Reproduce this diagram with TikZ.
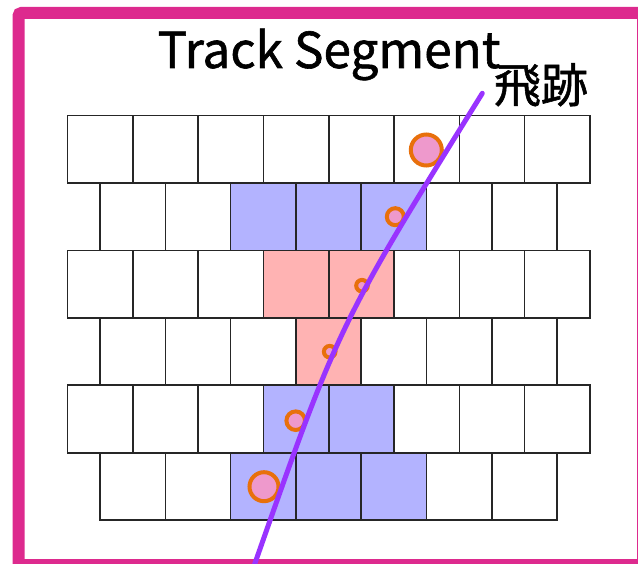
\documentclass[tikz,border=0pt]{standalone}
\usepackage{fontspec}
\setmainfont{Noto Sans CJK JP}[FakeBold=1.2]
\definecolor{framepink}{HTML}{DD2A8E}
\definecolor{cellblue}{HTML}{B3B3FF}
\definecolor{cellred}{HTML}{FFB3B3}
\definecolor{hitorange}{HTML}{E8700C}
\definecolor{hitpink}{HTML}{EE99CC}
\definecolor{trackpurple}{HTML}{9933FF}

\begin{document}
\begin{tikzpicture}[x=1pt,y=-1pt,
    cell/.style={draw=black!85,line width=1.6pt},
    hit/.style={circle,draw=hitorange,fill=hitpink,line width=4pt,inner sep=0pt},
    track/.style={trackpurple,line width=5pt,line cap=round}]
            \useasboundingbox (0,0) rectangle (638,564);
            \clip (0,0) rectangle (638,564);
            \draw[framepink,line width=12pt,rounded corners=3pt] (18.5,13) rectangle (643,565);

            % coloured cells (row/column)
            \foreach \r/\c/\col in {1/2/cellblue,1/3/cellblue,1/4/cellblue,
                                    2/3/cellred,2/4/cellred,
                                    3/3/cellred,
                                    4/3/cellblue,4/4/cellblue,
                                    5/2/cellblue,5/3/cellblue,5/4/cellblue}{
                \pgfmathsetmacro{\yt}{115.7+67.4*\r}
                \pgfmathsetmacro{\xo}{isodd(\r) ? 100 : 67.5}
                \fill[\col] (\xo+65.3*\c,\yt) rectangle ++(65.3,67.4);
            }

            % cell grid
            \foreach \r in {0,...,5}{
                \pgfmathsetmacro{\yt}{115.7+67.4*\r}
                \pgfmathsetmacro{\xo}{isodd(\r) ? 100 : 67.5}
                \pgfmathtruncatemacro{\nc}{isodd(\r) ? 6 : 7}
                \foreach \c in {0,...,\nc}
                    \draw[cell] (\xo+65.3*\c,\yt) rectangle ++(65.3,67.4);
            }

            % hits
            \node[hit,minimum size=31pt] (hitA) at (426.3,150) {};
            \node[hit,minimum size=17pt] (hitB) at (395.3,216.7) {};
            \node[hit,minimum size=11.6pt] (hitC) at (362,285.7) {};
            \node[hit,minimum size=11.6pt] (hitD) at (329.7,351.7) {};
            \node[hit,minimum size=18.6pt] (hitE) at (295.7,420.7) {};
            \node[hit,minimum size=29pt] (hitF) at (264,486.7) {};

            % track
            \coordinate (trackTop) at (482.3,93.3);
            \coordinate (trackBot) at (254,566);
            \draw[track] (trackTop) .. controls (339,324) .. (trackBot);

            \node[anchor=base,inner sep=0pt] (title) at (329,68) {\fontsize{49.5}{55}\selectfont Track Segment};
            \node[anchor=base,inner sep=0pt] (kiseki) at (541,102.5) {\fontsize{47}{50}\selectfont 飛跡};
\end{tikzpicture}
\end{document}
